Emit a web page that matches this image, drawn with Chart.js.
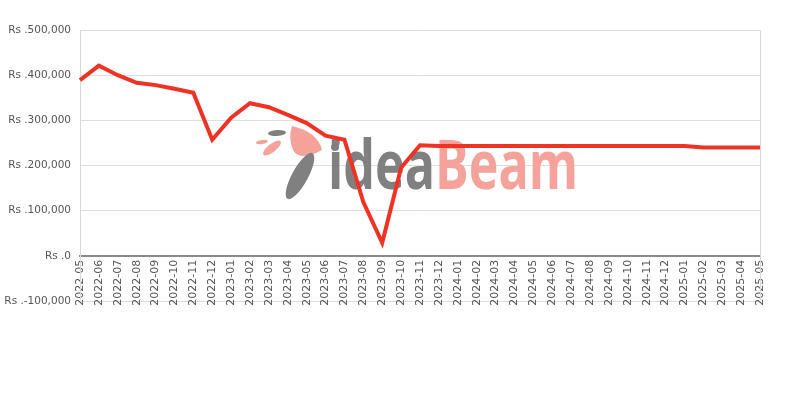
<!DOCTYPE html>
<html>
<head>
<meta charset="utf-8">
<script src="https://cdn.jsdelivr.net/npm/chart.js@4/dist/chart.umd.min.js"></script>
<style>
  html, body { margin: 0; padding: 0; background: #fff; }
  #wrap { width: 800px; height: 400px; }
</style>
</head>
<body>
<div id="wrap"><canvas id="priceChart"></canvas></div>
<script>
// Monthly labels and price values
const months = [
    '2022-05', '2022-06', '2022-07', '2022-08', '2022-09', '2022-10', '2022-11', '2022-12',
    '2023-01', '2023-02', '2023-03', '2023-04', '2023-05', '2023-06', '2023-07', '2023-08',
    '2023-09', '2023-10', '2023-11', '2023-12',
    '2024-01', '2024-02', '2024-03', '2024-04', '2024-05', '2024-06', '2024-07', '2024-08',
    '2024-09', '2024-10', '2024-11', '2024-12',
    '2025-01', '2025-02', '2025-03', '2025-04', '2025-05'
];
const prices = [
    389000, 421000, 400000, 383000, 378000, 370000, 361000, 257000,
    306000, 338000, 329000, 312000, 294000, 266000, 257000, 119000,
    29000, 195000, 245000, 243000,
    243000, 243000, 243000, 243000, 243000, 243000, 243000, 243000,
    243000, 243000, 243000, 243000,
    243000, 240000, 240000, 240000, 240000
];
const yTicks = [-100000, 0, 100000, 200000, 300000, 400000, 500000];

const textColor = '#555555';
const gridColor = '#dedede';

// watermark logo + right border of the plot box
const decor = {
    id: 'decor',
    beforeDatasetsDraw(chart) {
        const { ctx, chartArea } = chart;
        ctx.save();
        // rough bird / feather mark
        ctx.fillStyle = '#f5a29b';
        ctx.beginPath();
        ctx.moveTo(292, 126);
        ctx.quadraticCurveTo(318, 132, 322, 150);
        ctx.quadraticCurveTo(300, 162, 293, 150);
        ctx.quadraticCurveTo(288, 138, 292, 126);
        ctx.fill();
        ctx.beginPath();
        ctx.ellipse(272, 148, 4, 11, 0.9, 0, Math.PI * 2);
        ctx.fill();
        ctx.beginPath();
        ctx.ellipse(262, 142, 2, 6, 1.4, 0, Math.PI * 2);
        ctx.fill();
        ctx.fillStyle = '#808080';
        ctx.beginPath();
        ctx.ellipse(277, 133, 3, 9, 1.5, 0, Math.PI * 2);
        ctx.fill();
        ctx.beginPath();
        ctx.ellipse(300, 176, 8, 26, 0.5, 0, Math.PI * 2);
        ctx.fill();
        ctx.beginPath();
        ctx.arc(335, 147, 4, 0, Math.PI * 2);
        ctx.fill();

        ctx.font = 'bold 68px "Open Sans"';
        ctx.textBaseline = 'alphabetic';
        const w1 = ctx.measureText('idea').width;
        const w2 = ctx.measureText('Beam').width;
        const scale = 250 / (w1 + w2);
        ctx.fillStyle = '#808080';
        ctx.fillText('idea', 328, 189, w1 * scale);
        ctx.fillStyle = '#f5a29b';
        ctx.fillText('Beam', 328 + w1 * scale, 189, w2 * scale);
        ctx.restore();

        ctx.save();
        ctx.strokeStyle = '#d8d8d8';
        ctx.lineWidth = 1;
        ctx.beginPath();
        ctx.moveTo(chartArea.right + 0.5, chartArea.top);
        ctx.lineTo(chartArea.right + 0.5, chartArea.bottom);
        ctx.stroke();
        ctx.restore();
    }
};

new Chart(document.getElementById('priceChart'), {
    type: 'line',
    data: {
        labels: months,
        datasets: [{
            data: prices,
            borderColor: '#ee3324',
            backgroundColor: '#ee3324',
            borderWidth: 4,
            pointRadius: 0,
            tension: 0
        }]
    },
    options: {
        responsive: true,
        maintainAspectRatio: false,
        animation: false,
        layout: { padding: { top: 30, right: 40, bottom: 99, left: 2 } },
        plugins: {
            legend: { display: false },
            tooltip: { enabled: false }
        },
        scales: {
            x: {
                position: { y: 0 },
                grid: { display: false, drawTicks: false },
                border: { color: '#8a8a8a', width: 2 },
                ticks: {
                    color: textColor,
                    autoSkip: false,
                    maxRotation: 90,
                    minRotation: 90,
                    padding: 4,
                    font: { family: 'DejaVu Sans', size: 11 }
                }
            },
            y: {
                min: yTicks[0],
                max: yTicks[yTicks.length - 1],
                afterBuildTicks: (axis) => { axis.ticks = yTicks.map(v => ({ value: v })); },
                afterFit: (axis) => { axis.width = 78; },
                grid: { color: gridColor, drawTicks: false },
                border: { color: '#d8d8d8' },
                ticks: {
                    color: textColor,
                    padding: 9,
                    font: { family: 'DejaVu Sans', size: 10.5 },
                    callback: (v) => 'Rs .' + Number(v).toLocaleString('en-US')
                }
            }
        }
    },
    plugins: [decor]
});
</script>
</body>
</html>
